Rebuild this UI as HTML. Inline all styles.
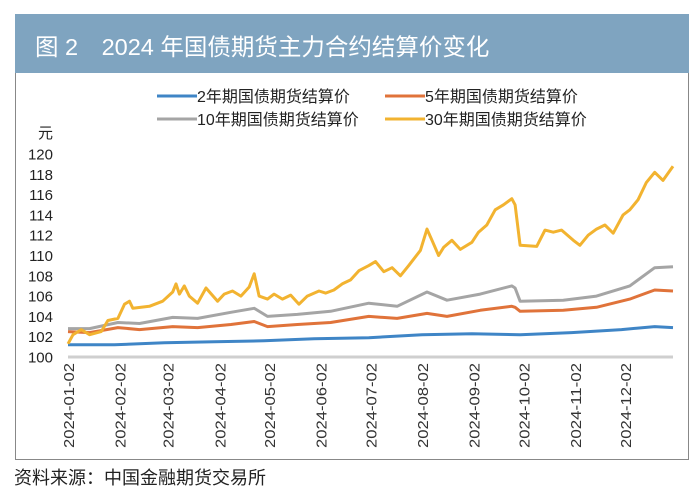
<!DOCTYPE html>
<html><head><meta charset="utf-8"><style>
body{margin:0;width:700px;height:503px;background:#fff;overflow:hidden;font-family:"Liberation Sans","Noto Sans CJK SC",sans-serif;}
#hdr{position:absolute;left:15px;top:14px;width:674px;height:59px;background:#7fa4c0;}
#ttl{position:absolute;left:20px;top:14px;color:#fff;font-size:23.5px;white-space:nowrap;}
#box{position:absolute;left:15px;top:73px;width:672px;height:386px;border:1px solid #888;border-top:none;}
#src{position:absolute;left:14px;top:464px;font-size:18px;color:#222;}
</style></head><body>
<div id="hdr"><div id="ttl">图 2　2024 年国债期货主力合约结算价变化</div></div>
<div id="box"></div>
<svg id="chart" width="700" height="503" style="position:absolute;left:0;top:0"></svg>
<div id="src">资料来源：中国金融期货交易所</div>
<script>
const yTicks=[100,102,104,106,108,110,112,114,116,118,120];
const xTickLabels=["2024-01-02","2024-02-02","2024-03-02","2024-04-02","2024-05-02","2024-06-02","2024-07-02","2024-08-02","2024-09-02","2024-10-02","2024-11-02","2024-12-02"];
const xTickDays=[2,33,62,93,123,154,184,215,246,276,307,337];
const seriesNames=["2年期国债期货结算价","5年期国债期货结算价","10年期国债期货结算价","30年期国债期货结算价"];
const days30=[2,5,10,15,22,26,32,36,39,41,51,59,65,67,69,72,75,80,85,92,96,101,106,111,114,117,122,126,131,136,141,146,153,157,162,167,172,177,183,187,192,197,202,207,214,218,221,225,228,233,238,245,249,254,259,264,269,271,274,284,289,294,299,306,310,315,320,325,330,336,340,345,350,355,360,366];
const values30=[101.3,102.2,102.7,102.2,102.5,103.6,103.8,105.2,105.5,104.8,105.0,105.5,106.4,107.2,106.2,107.0,106.0,105.3,106.8,105.5,106.2,106.5,106.0,106.9,108.2,106.0,105.7,106.2,105.7,106.1,105.2,106.0,106.5,106.3,106.6,107.2,107.6,108.5,109.0,109.4,108.4,108.8,108.0,109.0,110.5,112.6,111.5,110.0,110.8,111.5,110.6,111.3,112.3,113.0,114.5,115.0,115.6,115.0,111.0,110.9,112.5,112.3,112.5,111.5,111.0,112.0,112.6,113.0,112.2,114.0,114.5,115.5,117.2,118.2,117.4,118.8];
const days10=[2,15,32,45,65,80,100,114,122,140,160,183,200,218,230,250,269,271,274,300,320,340,355,366];
const values10=[102.8,102.8,103.4,103.3,103.9,103.8,104.4,104.8,104.0,104.2,104.5,105.3,105.0,106.4,105.6,106.2,107.0,106.8,105.5,105.6,106.0,107.0,108.8,108.9];
const days5=[2,15,32,45,65,80,100,114,122,140,160,183,200,218,230,250,269,271,274,300,320,340,355,366];
const values5=[102.5,102.4,102.9,102.7,103.0,102.9,103.2,103.5,103.0,103.2,103.4,104.0,103.8,104.3,104.0,104.6,105.0,104.9,104.5,104.6,104.9,105.7,106.6,106.5];
const days2=[2,30,60,90,120,150,183,215,245,274,305,335,355,366];
const values2=[101.2,101.2,101.4,101.5,101.6,101.8,101.9,102.2,102.3,102.2,102.4,102.7,103.0,102.9];
const colors=["#3f85c6","#e0733a","#a5a5a5","#f2b330"];
const NS="http://www.w3.org/2000/svg";
const svg=document.getElementById('chart');
const X0=68,X1=673,Y0=357,Y1=154;
function xs(d){return X0+(d-2)/(366-2)*(X1-X0);}
function ys(v){return Y0-(v-100)/(120-100)*(Y0-Y1);}
function mk(t,a,txt){const e=document.createElementNS(NS,t);for(const k in a)e.setAttribute(k,a[k]);if(txt!==undefined)e.textContent=txt;svg.appendChild(e);return e;}
const unit=mk('text',{x:38,y:138,'font-size':15,fill:'#222'},'元');


yTicks.forEach(v=>{const t=mk('text',{x:53,y:ys(v)+5.5,'font-size':15,fill:'#222','text-anchor':'end'},v);

});
const ax=mk('line',{x1:X0,x2:X1,y1:Y0,y2:Y0,stroke:'#cfcfcf','stroke-width':3});


xTickLabels.forEach((l,i)=>{const x=xs(xTickDays[i])+6;const t=mk('text',{x:x,y:363,'font-size':15,fill:'#333','text-anchor':'end','textLength':85,'lengthAdjust':'spacingAndGlyphs',transform:`rotate(-90 ${x} 363)`},l);

});
const all=[[days2,values2],[days5,values5],[days10,values10],[days30,values30]];
const names=['series-2y','series-5y','series-10y','series-30y'];
all.forEach((s,i)=>{const p=s[0].map((d,j)=>xs(d).toFixed(1)+','+ys(s[1][j]).toFixed(1)).join(' ');
const l=mk('polyline',{points:p,fill:'none',stroke:colors[i],'stroke-width':3,'stroke-linejoin':'round'});

});
const legPos=[[157,96],[385,96],[157,119],[385,119]];
seriesNames.forEach((n,i)=>{const [x,y]=legPos[i];
const g=mk('g',{});


const ln=document.createElementNS(NS,'line');ln.setAttribute('x1',x);ln.setAttribute('x2',x+40);ln.setAttribute('y1',y);ln.setAttribute('y2',y);ln.setAttribute('stroke',colors[i]);ln.setAttribute('stroke-width',3);g.appendChild(ln);
const t=document.createElementNS(NS,'text');t.setAttribute('x',x+40);t.setAttribute('y',y+6);t.setAttribute('font-size',16);t.setAttribute('fill','#222');t.textContent=n;g.appendChild(t);});
</script>
</body></html>
